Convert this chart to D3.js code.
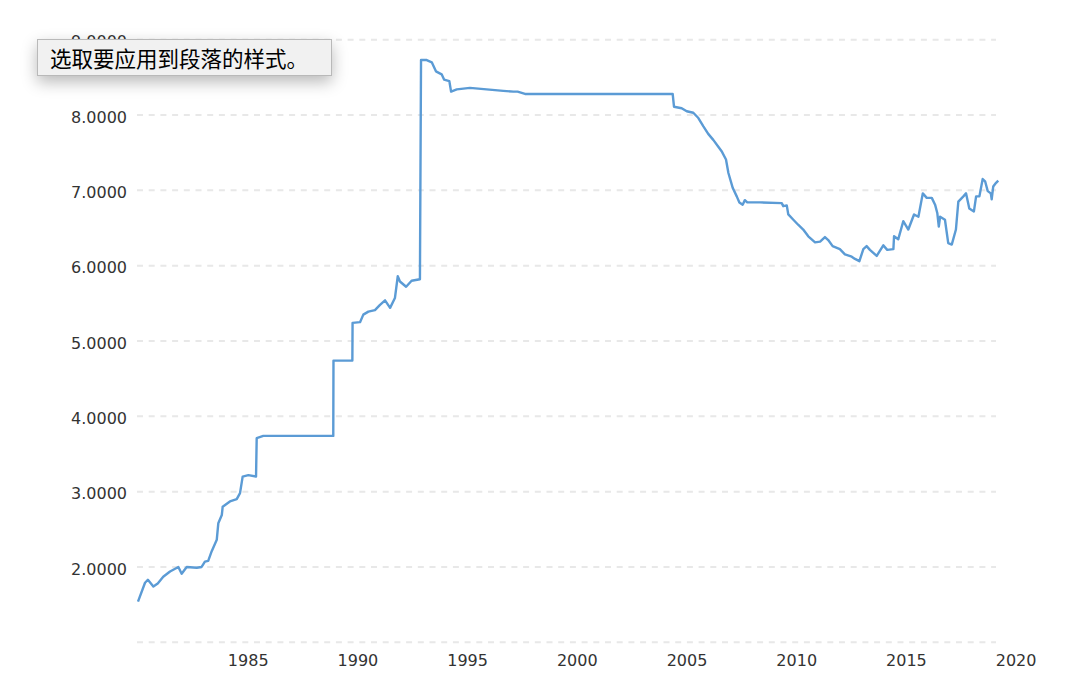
<!DOCTYPE html>
<html>
<head>
<meta charset="utf-8">
<script src="https://cdn.jsdelivr.net/npm/d3@7"></script>
<style>
  html, body { margin: 0; padding: 0; background: #fff; }
  #tip {
    position: absolute; left: 37px; top: 39px; width: 295px; height: 37px;
    background: #f1f1f1; border: 1px solid #b9b9b9; box-sizing: border-box;
    box-shadow: 0 6px 16px rgba(0,0,0,0.28);
    font-family: "Noto Sans CJK SC", sans-serif; font-size: 21.5px; color: #000;
    line-height: 35px; padding-left: 12px; white-space: nowrap;
  }
</style>
</head>
<body>
<svg id="chart" width="1082" height="680"></svg>
<div id="tip">选取要应用到段落的样式。</div>
<script>
// Series: USD/CNY rate (year as decimal, value)
const years = [1980.00,1980.32,1980.45,1980.70,1980.90,1981.15,1981.46,1981.84,1981.99,1982.22,1982.68,1982.90,1983.05,1983.20,1983.36,1983.59,1983.66,1983.82,1983.86,1984.19,1984.50,1984.65,1984.77,1985.03,1985.38,1985.41,1985.71,1988.90,1988.91,1989.77,1989.78,1990.12,1990.27,1990.50,1990.80,1991.03,1991.26,1991.49,1991.71,1991.84,1991.94,1992.22,1992.47,1992.85,1992.90,1993.16,1993.39,1993.58,1993.84,1993.95,1994.19,1994.27,1994.53,1995.13,1995.89,1996.65,1997.11,1997.30,1997.64,2004.37,2004.43,2004.78,2005.01,2005.31,2005.54,2005.77,2005.99,2006.22,2006.45,2006.60,2006.80,2006.91,2007.11,2007.29,2007.41,2007.56,2007.66,2007.77,2007.89,2008.35,2009.34,2009.41,2009.57,2009.64,2009.87,2010.10,2010.32,2010.55,2010.86,2011.09,2011.31,2011.46,2011.66,2011.99,2012.22,2012.53,2012.68,2012.88,2013.06,2013.21,2013.36,2013.67,2013.97,2014.15,2014.43,2014.46,2014.65,2014.88,2015.11,2015.37,2015.57,2015.77,2015.95,2016.18,2016.33,2016.43,2016.50,2016.56,2016.78,2016.93,2017.09,2017.28,2017.39,2017.62,2017.74,2017.89,2018.10,2018.20,2018.35,2018.50,2018.61,2018.73,2018.87,2018.91,2018.98,2019.11,2019.21];
const rates = [1.54,1.79,1.83,1.74,1.78,1.87,1.94,2.00,1.91,2.00,1.99,2.00,2.07,2.08,2.21,2.36,2.58,2.69,2.80,2.87,2.90,2.98,3.20,3.22,3.20,3.71,3.74,3.74,4.74,4.74,5.24,5.25,5.35,5.39,5.41,5.48,5.54,5.44,5.57,5.86,5.79,5.72,5.80,5.82,8.73,8.73,8.70,8.58,8.54,8.47,8.45,8.31,8.34,8.36,8.34,8.32,8.31,8.31,8.28,8.28,8.11,8.09,8.05,8.03,7.96,7.85,7.75,7.67,7.58,7.52,7.41,7.23,7.03,6.92,6.84,6.81,6.87,6.84,6.84,6.84,6.83,6.79,6.80,6.68,6.61,6.54,6.48,6.39,6.31,6.32,6.38,6.34,6.26,6.22,6.15,6.12,6.09,6.06,6.22,6.26,6.21,6.13,6.27,6.21,6.22,6.39,6.35,6.59,6.48,6.68,6.65,6.96,6.90,6.90,6.81,6.70,6.52,6.65,6.61,6.30,6.28,6.48,6.85,6.92,6.96,6.76,6.72,6.92,6.92,7.15,7.12,6.99,6.96,6.88,7.05,7.10,7.13];
const yearTicks = [1985,1990,1995,2000,2005,2010,2015,2020];
const gridValues = [1,2,3,4,5,6,7,8,9];
const labelValues = [2,3,4,5,6,7,8,9];

const data = years.map((y, i) => ({ t: y, v: rates[i] }));

const svg = d3.select("#chart");
const x = d3.scaleLinear().domain([1980, 2020]).range([138, 1015.6]);
const y = d3.scaleLinear().domain([1, 9]).range([642.3, 39.7]);

// grid
svg.append("g").selectAll("line").data(gridValues).join("line")
  .attr("x1", 137).attr("x2", 996)
  .attr("y1", d => y(d)).attr("y2", d => y(d))
  .attr("stroke", "#e8e8e8").attr("stroke-width", 2)
  .attr("stroke-dasharray", "6,5.7");

// y labels
const yAxis = d3.axisLeft(y).tickValues(labelValues).tickFormat(d3.format(".4f")).tickSize(0).tickPadding(0);
const gy = svg.append("g").attr("transform", "translate(127,2)").call(yAxis);
gy.select(".domain").remove();
gy.selectAll("text").attr("font-family", "'DejaVu Sans', Verdana, sans-serif").attr("font-size", 16).attr("fill", "#333");

// x labels
const xAxis = d3.axisBottom(x).tickValues(yearTicks).tickFormat(d3.format("d")).tickSize(0).tickPadding(0);
const gx = svg.append("g").attr("transform", "translate(0,655)").call(xAxis);
gx.select(".domain").remove();
gx.selectAll("text").attr("font-family", "'DejaVu Sans', Verdana, sans-serif").attr("font-size", 16).attr("fill", "#333");

// line
svg.append("path").datum(data)
  .attr("fill", "none").attr("stroke", "#5b9bd5").attr("stroke-width", 2.4)
  .attr("stroke-linejoin", "round")
  .attr("d", d3.line().x(d => x(d.t)).y(d => y(d.v)));
</script>
</body>
</html>
